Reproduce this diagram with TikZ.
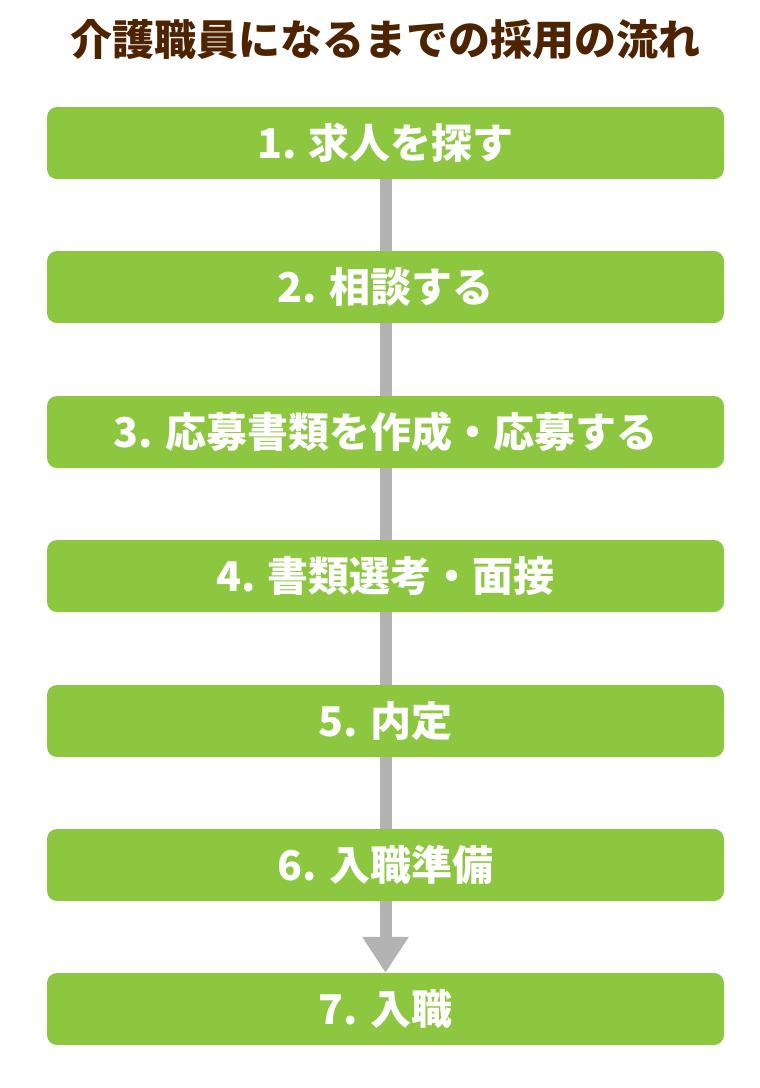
\documentclass[tikz,border=0pt]{standalone}
\usepackage{fontspec}
\newfontfamily\jpfont{Noto Sans CJK JP}
\usetikzlibrary{arrows.meta, backgrounds}

\begin{document}
\begin{tikzpicture}[x=1pt, y=-1pt, >={Triangle[width=44pt, length=36pt]}]

\definecolor{leafgreen}{HTML}{8DC63F}
\definecolor{titlebrown}{HTML}{4D2300}
\definecolor{flowgray}{HTML}{B3B3B3}

\tikzset{
    stepbox/.style={
        fill=leafgreen, draw=none, rounded corners=10pt,
        minimum width=677pt, minimum height=72pt, inner sep=0pt,
        text=white, font=\jpfont\bfseries\fontsize{41}{45}\selectfont
    },
    flowline/.style={
        draw=flowgray, fill=flowgray, line width=12pt, ->
    }
}

% Page
\useasboundingbox (0,0) rectangle (760,1088);

% Title
\node[text=titlebrown, font=\jpfont\bfseries\fontsize{42}{46}\selectfont] (Title) at (385.5, 40) {介護職員になるまでの採用の流れ};

% --- Steps ---
\node[stepbox] (S1) at (385.5, 143) {1. 求人を探す};
\node[stepbox] (S2) at (385.5, 287) {2. 相談する};
\node[stepbox] (S3) at (385.5, 432) {3. 応募書類を作成・応募する};
\node[stepbox] (S4) at (385.5, 576) {4. 書類選考・面接};
\node[stepbox] (S5) at (385.5, 721) {5. 内定};
\node[stepbox] (S6) at (385.5, 865) {6. 入職準備};
\node[stepbox] (S7) at (385.5, 1009) {7. 入職};

% Flow line behind the boxes
\begin{scope}[on background layer]
\fill[white] (0,0) rectangle (760,1088);
\draw[flowline] (S1.south) -- (S7.north);
\end{scope}

\end{tikzpicture}
\end{document}
